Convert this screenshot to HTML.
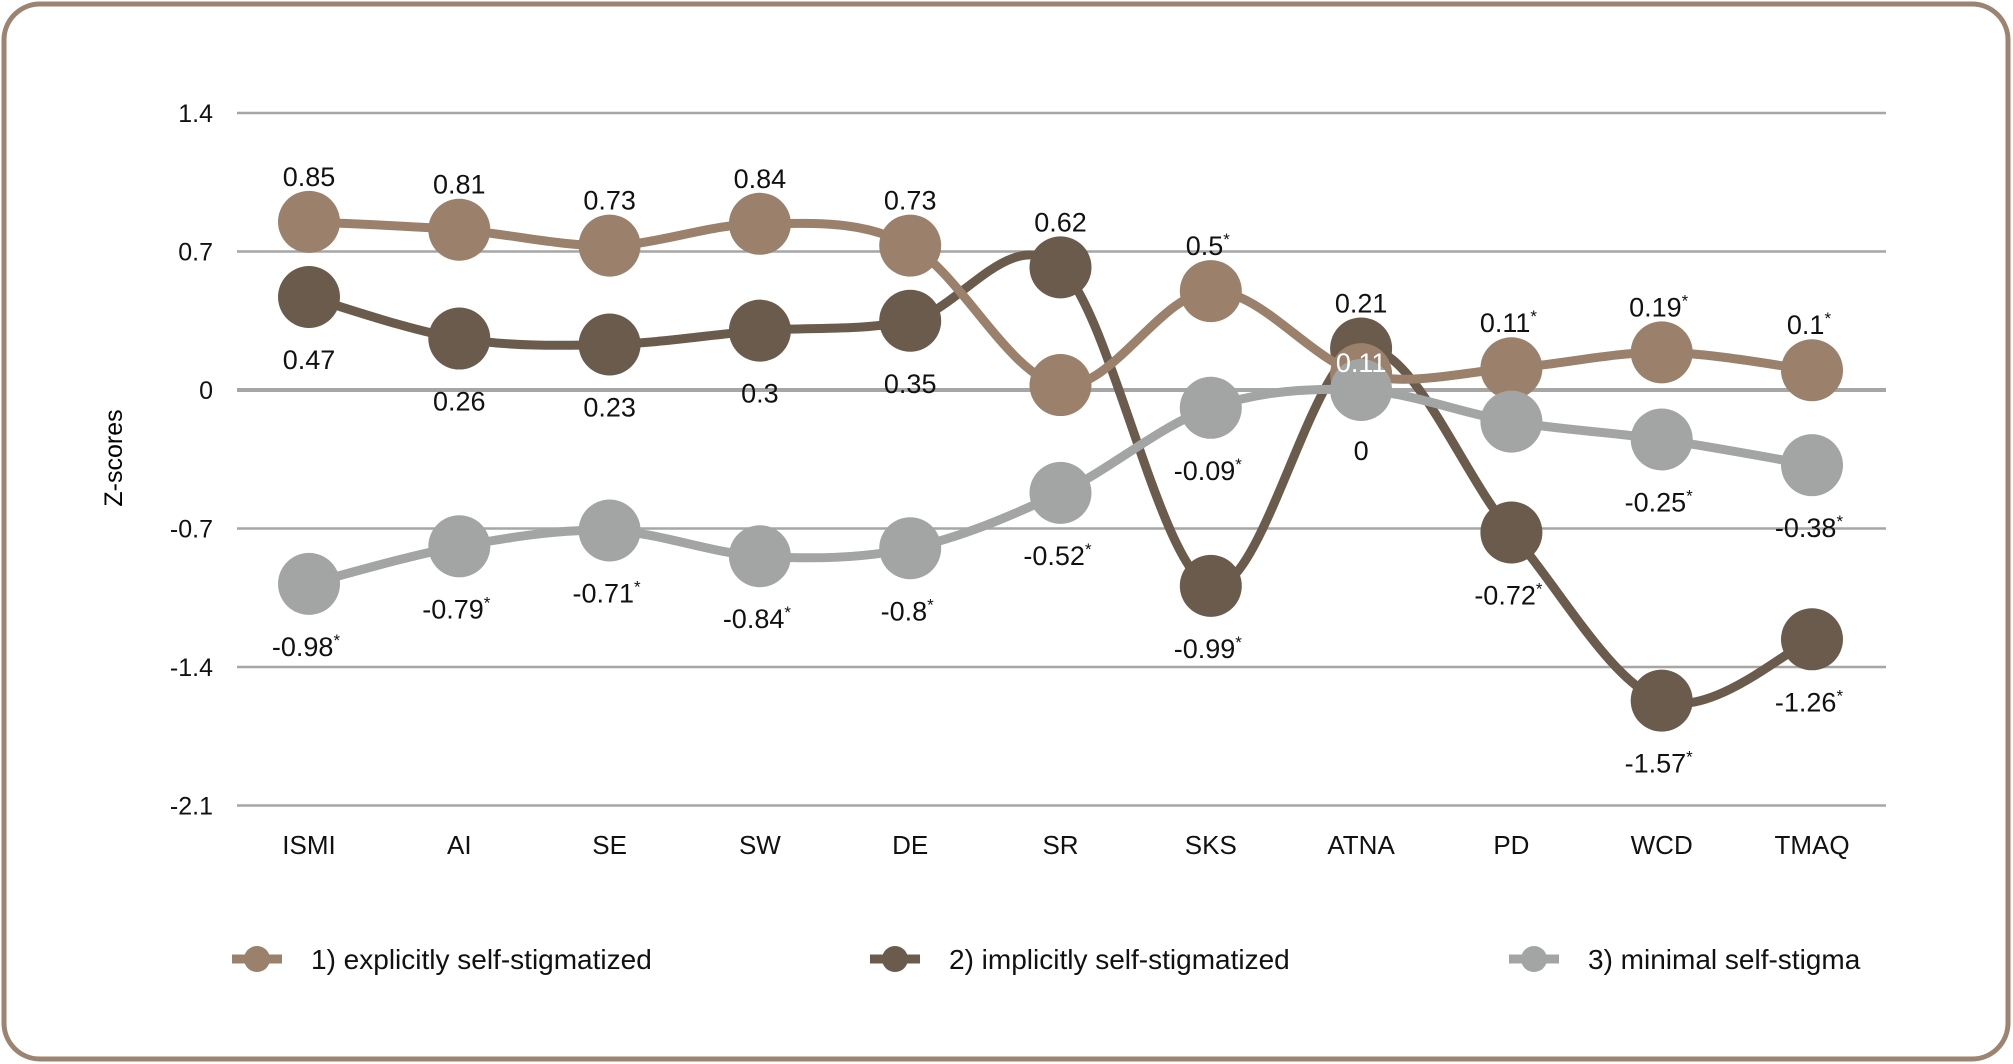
<!DOCTYPE html>
<html><head><meta charset="utf-8"><style>
html,body{margin:0;padding:0;background:#fff;}
svg{display:block;font-family:"Liberation Sans",sans-serif;}
</style></head><body>
<svg id="chart" width="2013" height="1064" viewBox="0 0 2013 1064">
<rect x="4" y="4" width="2004" height="1055" rx="36" ry="36" fill="#fff" stroke="#9c8471" stroke-width="5"/>
<g id="grid"></g>
<g id="series"></g>
<g id="labels"></g>
<g id="legend"></g>
<text x="122" y="458" font-size="25" text-anchor="middle" transform="rotate(-90 122 458)">Z-scores</text>
</svg>
<script>
const categories = ["ISMI","AI","SE","SW","DE","SR","SKS","ATNA","PD","WCD","TMAQ"];
const yTicks = [1.4, 0.7, 0, -0.7, -1.4, -2.1];
const seriesNames = ["1) explicitly self-stigmatized","2) implicitly self-stigmatized","3) minimal self-stigma"];
const explicitValues = [0.85,0.81,0.73,0.84,0.73,0.025,0.5,0.08,0.11,0.19,0.1];
const implicitValues = [0.47,0.26,0.23,0.3,0.35,0.62,-0.99,0.21,-0.72,-1.57,-1.26];
const minimalValues = [-0.98,-0.79,-0.71,-0.84,-0.8,-0.52,-0.09,0,-0.16,-0.25,-0.38];
const explicitLabels = ["0.85","0.81","0.73","0.84","0.73","","0.5*","0.11","0.11*","0.19*","0.1*"];
const implicitLabels = ["0.47","0.26","0.23","0.3","0.35","0.62","-0.99*","0.21","-0.72*","-1.57*","-1.26*"];
const minimalLabels = ["-0.98*","-0.79*","-0.71*","-0.84*","-0.8*","-0.52*","-0.09*","0","","-0.25*","-0.38*"];

const NS="http://www.w3.org/2000/svg";
const X0=309, XSTEP=150.3, Y0=390, PPU=138.5/0.7;
function xs(i){return X0+i*XSTEP;}
function ys(v){return Y0-v*PPU;}
function mk(tag,attrs,parent){const e=document.createElementNS(NS,tag);for(const k in attrs)e.setAttribute(k,attrs[k]);parent.appendChild(e);return e;}

const grid=document.getElementById('grid');
yTicks.forEach(t=>{
  const l=mk('line',{x1:237,x2:1886,y1:ys(t),y2:ys(t),stroke:'#a6a6a6','stroke-width':t===0?4:2.5},grid);
  
  
  const tx=mk('text',{x:213,y:ys(t)+9,'font-size':25,'text-anchor':'end',fill:'#111'},grid);
  tx.textContent=String(t);
  
  
});
categories.forEach((c,i)=>{
  const tx=mk('text',{x:xs(i),y:854,'font-size':26,'text-anchor':'middle',fill:'#111'},grid);
  tx.textContent=c;
  
  
});

function smoothPath(vals){
  const p=vals.map((v,i)=>[xs(i),ys(v)]);
  let d=`M${p[0][0]},${p[0][1]}`;
  for(let i=0;i<p.length-1;i++){
    const p0=p[i-1]||p[i],p1=p[i],p2=p[i+1],p3=p[i+2]||p[i+1];
    const t=0.5/3;
    const c1=[p1[0]+(p2[0]-p0[0])*t,p1[1]+(p2[1]-p0[1])*t];
    const c2=[p2[0]-(p3[0]-p1[0])*t,p2[1]-(p3[1]-p1[1])*t];
    d+=` C${c1[0]},${c1[1]} ${c2[0]},${c2[1]} ${p2[0]},${p2[1]}`;
  }
  return d;
}
const sg=document.getElementById('series');
const colors=["#9b806c","#6b5b4c","#a3a5a4"];
const allVals=[explicitValues,implicitValues,minimalValues];
const allLabels=[explicitLabels,implicitLabels,minimalLabels];
const slugs=["explicit","implicit","minimal"];
[1,0,2].forEach(s=>{
  const g=mk('g',{},sg);
  
  
  const path=mk('path',{d:smoothPath(allVals[s]),fill:'none',stroke:colors[s],'stroke-width':9,'stroke-linecap':'round'},g);
  
  
  allVals[s].forEach((v,i)=>{
    const c=mk('circle',{cx:xs(i),cy:ys(v),r:31,fill:colors[s]},g);
    
    
  });
});
const explicitPos=["a","a","a","a","a","a","a","w","a","a","a"];
const implicitPos=["b","b","b","b","b","a","b","a","b","b","b"];
const minimalPos=["b","b","b","b","b","b","b","b","b","b","b"];
const allPos=[explicitPos,implicitPos,minimalPos];
const lg=document.getElementById('labels');
[0,1,2].forEach(s=>{
  allLabels[s].forEach((lab,i)=>{
    if(!lab)return;
    const pos=allPos[s][i];
    let y=ys(allVals[s][i]);
    if(pos==='a')y=y-46; else if(pos==='b')y=y+62; else y=y-12;
    if(s===2&&i===7)y=ys(allVals[s][i])+60;
    const star=lab.endsWith('*');
    const txt=star?lab.slice(0,-1):lab;
    const t=mk('text',{x:xs(i)+(star?-3:0),y:y+10,'font-size':27,'text-anchor':'middle',fill:pos==='w'?'#fff':'#111'},lg);
    t.textContent=txt;
    if(star){const sp=mk('tspan',{'font-size':17,dy:-10},t);sp.textContent='*';}
    
    
  });
});
const leg=document.getElementById('legend');
const legX=[257,895,1534];
seriesNames.forEach((n,s)=>{
  const g=mk('g',{},leg);
  
  
  mk('line',{x1:legX[s]-25,x2:legX[s]+25,y1:959,y2:959,stroke:colors[s],'stroke-width':9},g);
  mk('circle',{cx:legX[s],cy:959,r:13,fill:colors[s]},g);
  const t=mk('text',{x:legX[s]+54,y:969,'font-size':28,fill:'#111'},g);
  t.textContent=n;
});
</script>
</body></html>
